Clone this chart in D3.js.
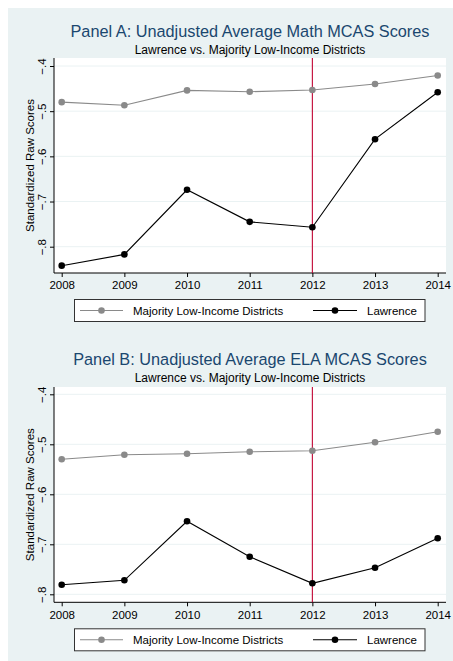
<!DOCTYPE html>
<html><head><meta charset="utf-8">
<script src="https://cdn.jsdelivr.net/npm/d3@7/dist/d3.min.js"></script>
<style>body{margin:0;background:#fff}svg{display:block;font-family:"Liberation Sans",Arial,Helvetica,sans-serif}</style>
</head><body><svg id="c" width="453" height="661"></svg>
<script>
const years = [2008, 2009, 2010, 2011, 2012, 2013, 2014];
const mathMajority = [-0.480, -0.487, -0.454, -0.457, -0.453, -0.440, -0.421];
const mathLawrence = [-0.842, -0.817, -0.674, -0.745, -0.757, -0.562, -0.458];
const elaMajority = [-0.530, -0.521, -0.519, -0.515, -0.513, -0.496, -0.475];
const elaLawrence = [-0.781, -0.772, -0.654, -0.725, -0.778, -0.747, -0.688];
const yTicks = [-0.4, -0.5, -0.6, -0.7, -0.8];
const policyYear = 2012;
const titles = ["Panel A: Unadjusted Average Math MCAS Scores", "Panel B: Unadjusted Average ELA MCAS Scores"];
const subtitle = "Lawrence vs. Majority Low-Income Districts";
const seriesNames = ["Majority Low-Income Districts", "Lawrence"];
const yTitle = "Standardized Raw Scores";

const svg = d3.select("#c");
svg.append("rect").attr("x", 8).attr("y", 8).attr("width", 445).attr("height", 653).attr("fill", "#eaf2f3");

const panels = [
  {title: titles[0], maj: mathMajority, law: mathLawrence, top: 58, bottom: 273, yTop: 66, yBot: 246.7, titleY: 37, subY: 53.5},
  {title: titles[1], maj: elaMajority, law: elaLawrence, top: 387, bottom: 602.3, yTop: 394.3, yBot: 594.3, titleY: 365, subY: 381.5}
];
const left = 54, right = 446;
const x = d3.scaleLinear().domain([2008, 2014]).range([61.7, 437.7]);
const fmt = d => d3.format(".1f")(d).replace("0.", ".");
const grayLine = "#8a8a8a", grayMark = "#8a8a8a", red = "#c10534";

panels.forEach(p => {
  const g = svg.append("g");
  const y = d3.scaleLinear().domain([-0.8, -0.4]).range([p.yBot, p.yTop]);
  g.append("text").attr("x", 250).attr("y", p.titleY).attr("text-anchor", "middle")
    .attr("font-size", 16.3).attr("fill", "#1a476f").text(p.title);
  g.append("text").attr("x", 250).attr("y", p.subY).attr("text-anchor", "middle")
    .attr("font-size", 12).attr("fill", "#000").text(subtitle);
  g.append("rect").attr("x", left).attr("y", p.top).attr("width", right - left).attr("height", p.bottom - p.top).attr("fill", "#fff");
  // gridlines
  g.selectAll(".grid").data(yTicks).join("line")
    .attr("x1", left).attr("x2", right).attr("y1", d => y(d)).attr("y2", d => y(d))
    .attr("stroke", "#eaf2f3").attr("stroke-width", 1);
  // y axis
  const ya = g.append("g").attr("transform", `translate(${left},0)`)
    .call(d3.axisLeft(y).tickValues(yTicks).tickSize(4).tickFormat(fmt));
  ya.select(".domain").remove();
  ya.append("line").attr("x1", 0).attr("x2", 0).attr("y1", p.top).attr("y2", p.bottom).attr("stroke", "#000");
  ya.selectAll(".tick line").attr("stroke", "#000");
  ya.selectAll(".tick text").attr("font-size", 11.5).attr("fill", "#000")
    .attr("x", null).attr("dy", null).attr("text-anchor", "middle")
    .attr("dominant-baseline", "central")
    .attr("transform", "translate(-12,0) rotate(-90)");
  g.append("text").attr("transform", `translate(30,${(p.top + p.bottom) / 2}) rotate(-90)`)
    .attr("text-anchor", "middle").attr("dominant-baseline", "central")
    .attr("font-size", 11.5).attr("fill", "#000").text(yTitle);
  // x axis
  const xa = g.append("g").attr("transform", `translate(0,${p.bottom})`)
    .call(d3.axisBottom(x).tickValues(years).tickSize(4).tickFormat(d3.format("d")));
  xa.select(".domain").remove();
  xa.append("line").attr("x1", left).attr("x2", right).attr("stroke", "#000");
  xa.selectAll(".tick line").attr("stroke", "#000");
  xa.selectAll(".tick text").attr("font-size", 11.5).attr("fill", "#000").attr("y", 6).attr("dy", "0.9em");
  // policy line
  g.append("line").attr("x1", x(policyYear)).attr("x2", x(policyYear)).attr("y1", p.top).attr("y2", p.bottom)
    .attr("stroke", red).attr("stroke-width", 1.1);
  // series
  const line = d3.line().x((d, i) => x(years[i])).y(d => y(d));
  [[p.maj, grayLine, grayMark], [p.law, "#000", "#000"]].forEach(([vals, lc, mc]) => {
    g.append("path").attr("d", line(vals)).attr("fill", "none").attr("stroke", lc).attr("stroke-width", 1.1);
    g.selectAll(null).data(vals).join("circle")
      .attr("cx", (d, i) => x(years[i])).attr("cy", d => y(d)).attr("r", 3.3).attr("fill", mc);
  });
  // legend
  const ly = p.bottom + 26.5;
  const lg = g.append("g");
  lg.append("rect").attr("x", 74.5).attr("y", ly).attr("width", 350.5).attr("height", 22)
    .attr("fill", "#fff").attr("stroke", "#333").attr("stroke-width", 1);
  const items = [{x1: 80, x2: 123, tx: 133, c: grayLine, mc: grayMark}, {x1: 313, x2: 357, tx: 367, c: "#000", mc: "#000"}];
  items.forEach((it, i) => {
    lg.append("line").attr("x1", it.x1).attr("x2", it.x2).attr("y1", ly + 11).attr("y2", ly + 11).attr("stroke", it.c).attr("stroke-width", 1.1);
    lg.append("circle").attr("cx", (it.x1 + it.x2) / 2).attr("cy", ly + 11).attr("r", 3.3).attr("fill", it.mc);
    lg.append("text").attr("x", it.tx).attr("y", ly + 11).attr("dominant-baseline", "central")
      .attr("font-size", 11.5).attr("fill", "#000").text(seriesNames[i]);
  });
});
</script></body></html>
